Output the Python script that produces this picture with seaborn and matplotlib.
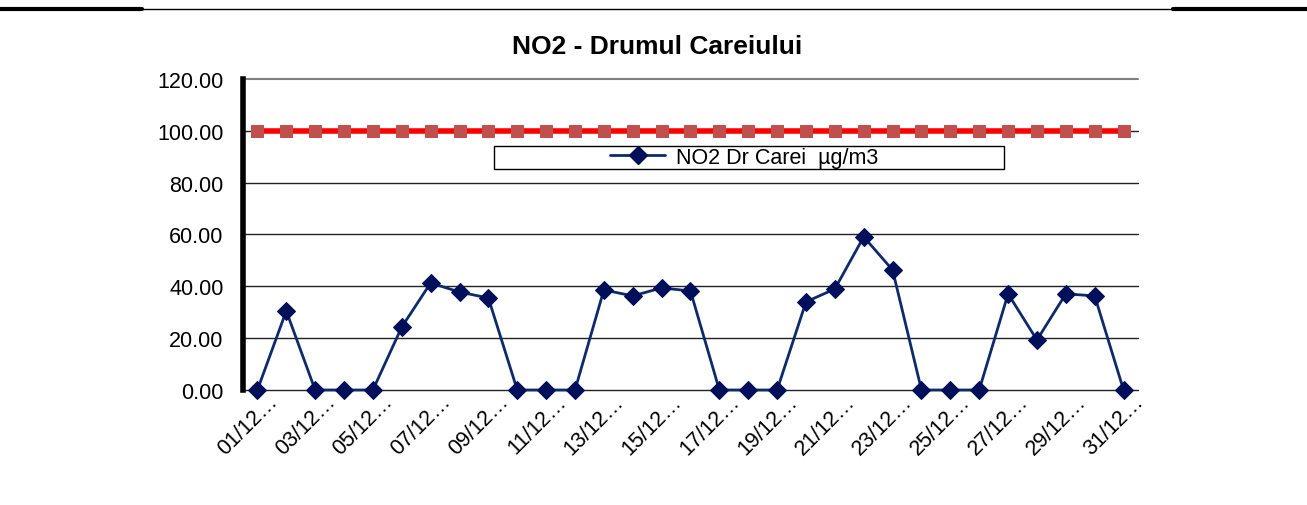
import pandas as pd
import numpy as np
import matplotlib
matplotlib.use('Agg')
import matplotlib.pyplot as plt
import matplotlib.transforms as mtransforms
import seaborn as sns
from matplotlib.lines import Line2D
from matplotlib.patches import Rectangle

# Data: daily NO2 values, December
days = [f'{d:02d}/12/2011' for d in range(1, 32)]
no2 = [0, 30.5, 0, 0, 0, 24.3, 41.3, 37.8, 35.5, 0, 0, 0, 38.6, 36.3, 39.4, 38.2,
       0, 0, 0, 34.0, 39.0, 59.1, 46.3, 0, 0, 0, 37.1, 19.3, 37.1, 36.3, 0]
limit = [100.0] * 31
tick_labels = [d[:5] + '\u2026' for d in days]
y_ticks = [0, 20, 40, 60, 80, 100, 120]

sns.set_theme(style='white')
plt.rcParams['font.family'] = ['Liberation Sans', 'DejaVu Sans']
plt.rcParams['text.color'] = 'black'
plt.rcParams['xtick.color'] = 'black'
plt.rcParams['ytick.color'] = 'black'

df = pd.DataFrame({'idx': np.arange(len(days)), 'day': days, 'no2': no2, 'limit': limit})

fig = plt.figure(figsize=(13.07, 5.06), dpi=100)
ax = fig.add_axes([0.1859, 0.2273, 0.6848, 0.6146])

# grid lines
for yv in y_ticks[:-1]:
    ax.axhline(yv, color='#222222', lw=1.0, zorder=0, clip_on=False)
ax.axhline(120, color='#808080', lw=1.5, zorder=0, clip_on=False)

sns.lineplot(data=df, x='idx', y='limit', ax=ax, color='#FF0000', lw=4,
             marker='s', markersize=8, markerfacecolor='#C0504D',
             markeredgecolor='#C0504D', zorder=3)
sns.lineplot(data=df, x='idx', y='no2', ax=ax, color='#0D2A6B', lw=2,
             marker='D', markersize=9.5, markerfacecolor='#000F5A',
             markeredgecolor='#000F5A', zorder=4, clip_on=False)

ax.set_xlim(-0.5, len(days) - 0.5)
ax.set_ylim(0, 120)
ax.set_yticks(y_ticks)
ax.set_yticklabels([f'{v:.2f}' for v in y_ticks], fontsize=15.5)
ax.set_xticks(df['idx'][::2])
ax.set_xticklabels([])
ax.tick_params(axis='x', length=0)
ax.tick_params(axis='y', length=0, pad=14)
ax.set_xlabel('')
ax.set_ylabel('')

# rotated date labels, offset right like the Excel original
lbl_tr = ax.get_xaxis_transform() + mtransforms.ScaledTranslation(0.17, -0.08, fig.dpi_scale_trans)
for i, lab in zip(df['idx'][::2], tick_labels[::2]):
    ax.text(i, 0, lab, transform=lbl_tr, rotation=45, ha='right', va='center',
            rotation_mode='anchor', fontsize=15.5)

for s in ['top', 'right', 'bottom']:
    ax.spines[s].set_visible(False)
ax.spines['left'].set_color('black')
ax.spines['left'].set_linewidth(4)

fig.text(657 / 1307, 1 - 47 / 506, 'NO2 - Drumul Careiului', fontsize=19,
         fontweight='bold', ha='center', va='center')

# legend: wide box with the entry centred in it
ax.add_patch(Rectangle((0.2804, 0.7106), 0.5698, 0.074, transform=ax.transAxes,
                       facecolor='white', edgecolor='black', lw=1, zorder=5))
handle = Line2D([], [], color='#0D2A6B', lw=2, marker='D', markersize=9.5,
                markerfacecolor='#000F5A', markeredgecolor='#000F5A')
leg = ax.legend([handle], ['NO2 Dr Carei  \u00b5g/m3'], loc='center',
                bbox_to_anchor=(0.5598, 0.7476), fontsize=15.5, frameon=False,
                handlelength=2.6, handletextpad=0.5, borderpad=0, borderaxespad=0)
leg.set_zorder(6)

# page header lines
fig.add_artist(Line2D([0, 142 / 1307], [0.9802, 0.9802], color='black', lw=3))
fig.add_artist(Line2D([142 / 1307, 1173 / 1307], [0.9802, 0.9802], color='black', lw=1))
fig.add_artist(Line2D([1173 / 1307, 1], [0.9802, 0.9802], color='black', lw=3))

fig.savefig('out.png', dpi=100)
plt.close()
